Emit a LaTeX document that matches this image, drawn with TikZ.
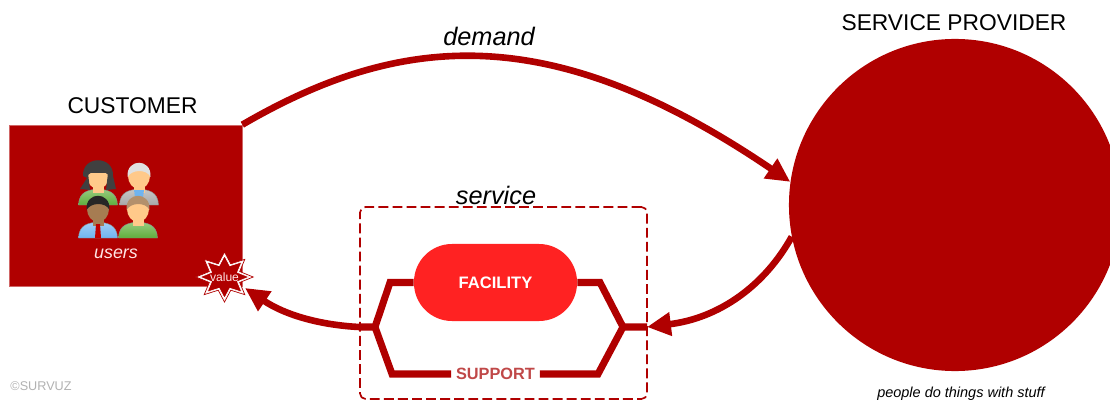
\documentclass[tikz,border=0pt]{standalone}
\usepackage{fontspec}
\setmainfont{Liberation Sans}
\usepackage{xcolor}
\usetikzlibrary{arrows.meta,shapes.geometric}

\definecolor{svcred}{HTML}{B00000}
\definecolor{facred}{HTML}{FF2222}
\definecolor{suptext}{HTML}{C04848}
\definecolor{skin}{HTML}{FFC98A}
\definecolor{darkskin}{HTML}{A67C52}
\definecolor{shirtgreen}{HTML}{5FAE3C}
\definecolor{shirtblue}{HTML}{6FB4F0}
\definecolor{shirtgrey}{HTML}{A8A8A8}

% one user icon: #1 hair, #2 shirt, #3 face
\newcommand{\drawuser}[3]{
    \path[top color=#2!65!white,bottom color=#2,draw=black!45,line width=0.3pt] (-19.5,29) .. controls (-19,15) and (-9,14) .. (0,13)
        .. controls (9,14) and (19,15) .. (19.5,29) -- cycle;
    \fill[#3] (-5.5,6) rectangle (5.5,17);
    \fill[#3] (0,0) ellipse (11 and 13);
    \fill[#1] (-11.5,1) .. controls (-13,-18) and (13,-18) .. (11.5,1)
        .. controls (8,-7) and (-7,-7) .. (-11.5,1) -- cycle;
}

\begin{document}
\begin{tikzpicture}[x=0.025cm,y=-0.025cm]

        \tikzstyle{flow}=[line width=4.7pt,svcred,-{Triangle[length=17pt,width=16pt]}]
        \tikzstyle{branch}=[line width=5pt,svcred,line join=miter]
        \tikzstyle{heading}=[text=black,font=\fontsize{16.2}{18}\selectfont]
        \tikzstyle{slanted}=[text=black,font=\fontsize{18}{20}\selectfont\itshape]
        \tikzstyle{burst}=[star,star points=8,star point ratio=1.75,inner sep=0pt,xscale=1.15]

        \path[use as bounding box,fill=white] (0,0) rectangle (1110,400);

        %% Main shapes
        \node[fill=svcred,draw=svcred!60,line width=0.4pt,minimum width=5.825cm,minimum height=4.025cm,inner sep=0pt] (customer) at (125.5,205.5) {};
        \node[circle,fill=svcred,minimum size=8.3cm,inner sep=0pt] (provider) at (955,205) {};

        \node[heading] (customerlabel) at (132.5,106) {CUSTOMER};
        \node[heading] (providerlabel) at (954,23) {SERVICE PROVIDER};
        \node[slanted] (demandlabel) at (489,36) {demand};
        \node[slanted] (servicelabel) at (496,195) {service};
        \node[text=black,font=\fontsize{10.3}{12}\selectfont\itshape] (stufflabel) at (961,393.5) {people do things with stuff};
        \node[text=black!30,font=\fontsize{9}{10}\selectfont] (copyright) at (41,386) {©SURVUZ};

        %% Users
        \begin{scope}[shift={(98,176)}]
            \drawuser{black!75}{shirtgreen}{skin}
            \fill[black!75] (-11,2) -- (-15,0) .. controls (-16,-21) and (16,-21) .. (15,0) -- (18,13) -- (8,14) -- (10,-3) -- (-10,-3) -- (-8,14) -- (-18,13) -- cycle;
        \end{scope}
        \begin{scope}[shift={(139,176)}]
            \drawuser{black!12}{shirtgrey}{skin}
            \fill[shirtblue] (-5,14) -- (5,14) -- (3,29) -- (-3,29) -- cycle;
        \end{scope}
        \begin{scope}[shift={(98,209)}]
            \drawuser{black!85}{shirtblue}{darkskin}
            \fill[red!75!black] (-2,15) -- (2,15) -- (3,29) -- (-3,29) -- cycle;
        \end{scope}
        \begin{scope}[shift={(138,209)}]
            \drawuser{darkskin!85}{shirtgreen}{skin}
        \end{scope}
        \node[text=white!90!red,font=\fontsize{12.7}{14}\selectfont\itshape] (userslabel) at (116,253.5) {users};

        %% Service box with its two branches
        \coordinate (svcin) at (647,327);
        \coordinate (svcout) at (360,327);
        \coordinate (rightfork) at (623,327);
        \coordinate (leftfork) at (375,327);
        \node[fill=facred,minimum width=4.075cm,minimum height=1.925cm,rounded corners=0.95cm,inner sep=0pt,text=white,font=\fontsize{11.8}{13}\selectfont\bfseries] (facility) at (495.5,282.5) {FACILITY};
        \node[text=suptext,inner sep=0pt,font=\fontsize{11.6}{13}\selectfont\bfseries,minimum width=2.2cm] (support) at (495.5,374) {SUPPORT};

        \draw[branch] (svcout) -- (leftfork) -- (390,282.5) -- (facility.west);
        \draw[branch] (leftfork) -- (392,374) -- (support.west);
        \draw[branch] (svcin) -- (rightfork) -- (600,282.5) -- (facility.east);
        \draw[branch] (rightfork) -- (598,374) -- (support.east);

        \node[draw=svcred,dash pattern=on 7pt off 3pt,line width=1.2pt,rounded corners=4pt,minimum width=7.175cm,minimum height=4.8cm,inner sep=0pt] (service) at (503.5,303) {};

        %% Flows
        \coordinate (valuetip) at (245,288);
        \draw[flow] (customer.north east) .. controls (405,30) and (555,22) .. (provider.172);
        \draw[flow] (provider.191) .. controls (765,285) and (720,318) .. (svcin);
        \draw[flow] (service.west |- svcout) .. controls (320,325) and (285,315) .. (valuetip);

        %% Value burst
        \node[burst,fill=white,draw=svcred,line width=0.5pt,minimum size=1.25cm] (burstouter) at (224.5,277) {};
        \node[burst,fill=svcred,draw=white,line width=0.5pt,minimum size=1.07cm] (burstinner) at (224.5,277) {};
        \node[text=white!90!red,inner sep=0pt,font=\fontsize{8.6}{10}\selectfont] (valuelabel) at (224.5,277) {value};

    \end{tikzpicture}
\end{document}
